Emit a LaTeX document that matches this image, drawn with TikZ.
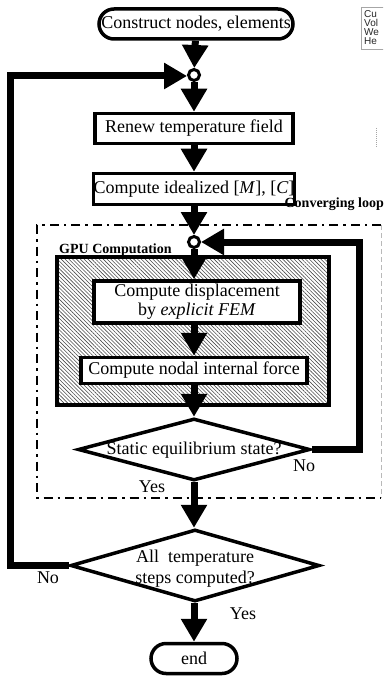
\documentclass[tikz,border=0pt]{standalone}
\usepackage{fontspec}
\setmainfont{Liberation Serif}
\newfontfamily\smallsans{Liberation Sans}
\usetikzlibrary{arrows.meta,patterns.meta,shapes.geometric}

\begin{document}
\begin{tikzpicture}[x=1pt,y=-1pt,
  box/.style={draw,line width=3.5pt,fill=white,inner sep=0pt,font=\fontsize{18}{20}\selectfont,align=center},
  term/.style={box,rounded corners=15pt},
  dec/.style={draw,line width=3.5pt,fill=white,diamond,inner sep=0pt},
  dectext/.style={font=\fontsize{18}{21}\selectfont,align=center,inner sep=0pt},
  junc/.style={circle,draw,line width=3pt,fill=white,minimum size=11pt,inner sep=0pt},
  flow/.style={line width=7pt,-{Triangle[length=23pt,width=25pt]}},
  lbl/.style={font=\fontsize{18}{20}\selectfont,inner sep=0pt},
  blbl/.style={font=\fontsize{14}{16}\selectfont\bfseries,inner sep=0pt},
  dashdotline/.style={line width=2.5pt,dash pattern=on 9pt off 5pt on 2.5pt off 5pt},
  legtext/.style={font=\smallsans\fontsize{10}{10}\selectfont,text=black!85,inner sep=0pt,anchor=base west}
]
\useasboundingbox (0,0) rectangle (383,679);
\clip (0,0) rectangle (383,679);

% hatched GPU area
\draw[line width=3.5pt,pattern={Lines[angle=-45,distance=2.7pt,line width=0.6pt]},pattern color=black!70] (57,257) rectangle (329,405);

% converging loop frame
\draw[dashdotline] (381,225) -- (37,225) -- (37,498) -- (381,498);
\draw[gray!55,line width=1pt,dash pattern=on 5pt off 3pt] (381,225) -- (381,498);

% nodes
\node[term,minimum width=194pt,minimum height=30pt] (start) at (196,24) {Construct nodes, elements};
\node[junc] (c1) at (194,75) {};
\node[box,minimum width=198pt,minimum height=30pt] (renew) at (194,128.5) {Renew temperature field};
\node[box,minimum width=198pt,minimum height=31pt] (ideal) at (194,189) {Compute idealized [\textit{M}], [\textit{C}]};
\node[junc] (c2) at (194,242) {};
\node[box,minimum width=206pt,minimum height=42pt] (disp) at (197,302) {Compute displacement\\[-1pt]by \textit{explicit FEM}};
\node[box,minimum width=226pt,minimum height=26pt] (nodal) at (194,370.5) {Compute nodal internal force};
\node[dec,minimum width=232pt,minimum height=62pt] (static) at (194,449.5) {};
\node[dectext] (statict) at (194,450) {Static equilibrium state?};
\node[dec,minimum width=249pt,minimum height=72pt] (temp) at (195,565.5) {};
\node[dectext] (tempt) at (195,569) {All\ \ temperature\\steps computed?};
\node[term,minimum width=86pt,minimum height=30pt] (end) at (194,658.5) {end};

% labels
\node[blbl,anchor=base east] (conv) at (384,207) {Converging loop};
\node[blbl,anchor=base west] (gpu) at (59,253) {GPU Computation};
\node[lbl] (yes1) at (152,487) {Yes};
\node[lbl] (no1) at (304,466) {No};
\node[lbl] (no2) at (48,578) {No};
\node[lbl] (yes2) at (243,614) {Yes};

% straight flow
\draw[flow] (start) -- (c1);
\draw[flow] (c1) -- (renew);
\draw[flow] (renew) -- (ideal);
\draw[flow] (ideal) -- (c2);
\draw[flow] (c2) -- (c2|-disp.north);
\draw[flow] (disp.south-|nodal) -- (nodal);
\draw[flow] (nodal) -- (static);
\draw[flow] (static) -- (static.south|-temp.north);
\draw[flow] (temp.south-|end) -- (end);

% loops
\coordinate (R1) at (359,449.5);
\coordinate (R2) at (359,242);
\draw[flow] (static.east) -- (R1) -- (R2) -- (c2);
\coordinate (L1) at (10,565.5);
\coordinate (L2) at (10,76);
\draw[flow] (temp.west) -- (L1) -- (L2) -- (c1.west|-L2);

% fragment at right margin
\draw[gray!70,line width=0.8pt] (361,7) rectangle (395,49);
\node[legtext] (l1) at (364,17.5) {Cu};
\node[legtext] (l2) at (364,26.5) {Vol};
\node[legtext] (l3) at (364,35.5) {We};
\node[legtext] (l4) at (364,44.5) {He};
\draw[gray!70,line width=0.6pt,dash pattern=on 1pt off 1pt] (376,128) -- (376,147);
\end{tikzpicture}
\end{document}
